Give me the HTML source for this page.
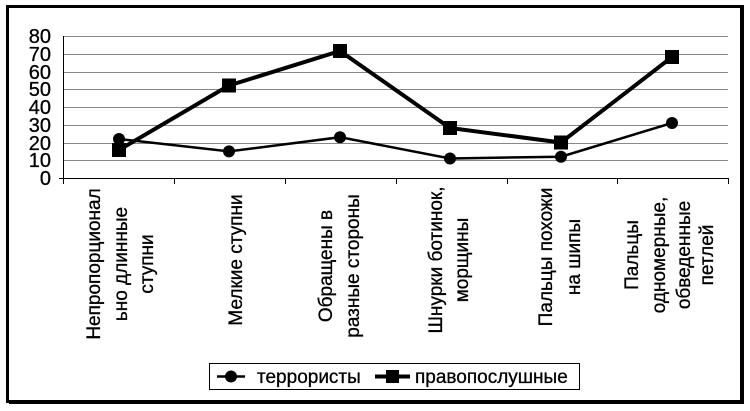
<!DOCTYPE html>
<html><head><meta charset="utf-8"><style>
html,body{margin:0;padding:0;background:#fff;}
svg{display:block;font-family:"Liberation Sans",Arial,sans-serif;}
</style></head><body>
<svg width="750" height="411" viewBox="0 0 750 411" xmlns="http://www.w3.org/2000/svg">
<rect x="0" y="0" width="750" height="411" fill="#fff"/>
<rect x="7.5" y="6.5" width="735" height="395" fill="none" stroke="#000" stroke-width="3"/>
<rect x="740" y="8" width="4" height="396" fill="#000"/>
<rect x="9" y="400" width="735" height="4" fill="#000"/>
<g stroke="#888" stroke-width="1">
<line x1="63" y1="36.5" x2="728" y2="36.5"/>
<line x1="63" y1="54.5" x2="728" y2="54.5"/>
<line x1="63" y1="72.5" x2="728" y2="72.5"/>
<line x1="63" y1="89.5" x2="728" y2="89.5"/>
<line x1="63" y1="107.5" x2="728" y2="107.5"/>
<line x1="63" y1="125.5" x2="728" y2="125.5"/>
<line x1="63" y1="143.5" x2="728" y2="143.5"/>
<line x1="63" y1="160.5" x2="728" y2="160.5"/>
</g>
<g stroke="#000" stroke-width="1">
<line x1="63.5" y1="36" x2="63.5" y2="184"/>
<line x1="59" y1="178.5" x2="729" y2="178.5"/>
<line x1="174.5" y1="178" x2="174.5" y2="184"/>
<line x1="285.5" y1="178" x2="285.5" y2="184"/>
<line x1="396.5" y1="178" x2="396.5" y2="184"/>
<line x1="507.5" y1="178" x2="507.5" y2="184"/>
<line x1="617.5" y1="178" x2="617.5" y2="184"/>
<line x1="728.5" y1="178" x2="728.5" y2="184"/>
</g>
<g font-size="20" text-anchor="end" fill="#000" stroke="#000" stroke-width="0.3">
<text x="51" y="43">80</text>
<text x="51" y="61">70</text>
<text x="51" y="79">60</text>
<text x="51" y="96">50</text>
<text x="51" y="114">40</text>
<text x="51" y="132">30</text>
<text x="51" y="150">20</text>
<text x="51" y="167">10</text>
<text x="51" y="185">0</text>
</g>
<polyline points="119,139 229,151.4 340,137.2 450,158.5 561,156.7 672,123" fill="none" stroke="#000" stroke-width="2.5"/>
<g fill="#000">
<circle cx="119" cy="139" r="6"/><circle cx="229" cy="151.4" r="6"/><circle cx="340" cy="137.2" r="6"/>
<circle cx="450" cy="158.5" r="6"/><circle cx="561" cy="156.7" r="6"/><circle cx="672" cy="123" r="6"/>
</g>
<polyline points="119,150 229,85.5 340,51 450,128 561,142.5 672,57" fill="none" stroke="#000" stroke-width="4"/>
<g fill="#000">
<rect x="112" y="143" width="14" height="14"/><rect x="222" y="78.5" width="14" height="14"/>
<rect x="333" y="44" width="14" height="14"/><rect x="443" y="121" width="14" height="14"/>
<rect x="554" y="135.5" width="14" height="14"/><rect x="665" y="50" width="14" height="14"/>
</g>
<g font-size="19" text-anchor="middle" fill="#000" stroke="#000" stroke-width="0.3">
<text transform="translate(100,264) rotate(-90)">Непропорционал</text>
<text transform="translate(127,264) rotate(-90)">ьно длинные</text>
<text transform="translate(153,264) rotate(-90)">ступни</text>
<text transform="translate(242,260) rotate(-90)">Мелкие ступни</text>
<text transform="translate(332,266) rotate(-90)">Обращены в</text>
<text transform="translate(359,266) rotate(-90)">разные стороны</text>
<text transform="translate(442,260) rotate(-90)">Шнурки ботинок,</text>
<text transform="translate(468,260) rotate(-90)">морщины</text>
<text transform="translate(552,257) rotate(-90)">Пальцы похожи</text>
<text transform="translate(580,257) rotate(-90)">на шипы</text>
<text transform="translate(638,255) rotate(-90)">Пальцы</text>
<text transform="translate(665,255) rotate(-90)">одномерные,</text>
<text transform="translate(690,255) rotate(-90)">обведенные</text>
<text transform="translate(713,255) rotate(-90)">петлей</text>
</g>
<rect x="209.5" y="363.5" width="370" height="26" fill="#fff" stroke="#000" stroke-width="1"/>
<line x1="217" y1="376.5" x2="245" y2="376.5" stroke="#000" stroke-width="2.5"/>
<circle cx="231" cy="376.5" r="6" fill="#000"/>
<text x="257" y="383" font-size="19" stroke="#000" stroke-width="0.3">террористы</text>
<line x1="375" y1="376.5" x2="410" y2="376.5" stroke="#000" stroke-width="4"/>
<rect x="386" y="370" width="13" height="13" fill="#000"/>
<text x="415" y="383" font-size="19" stroke="#000" stroke-width="0.3">правопослушные</text>
</svg>
</body></html>
